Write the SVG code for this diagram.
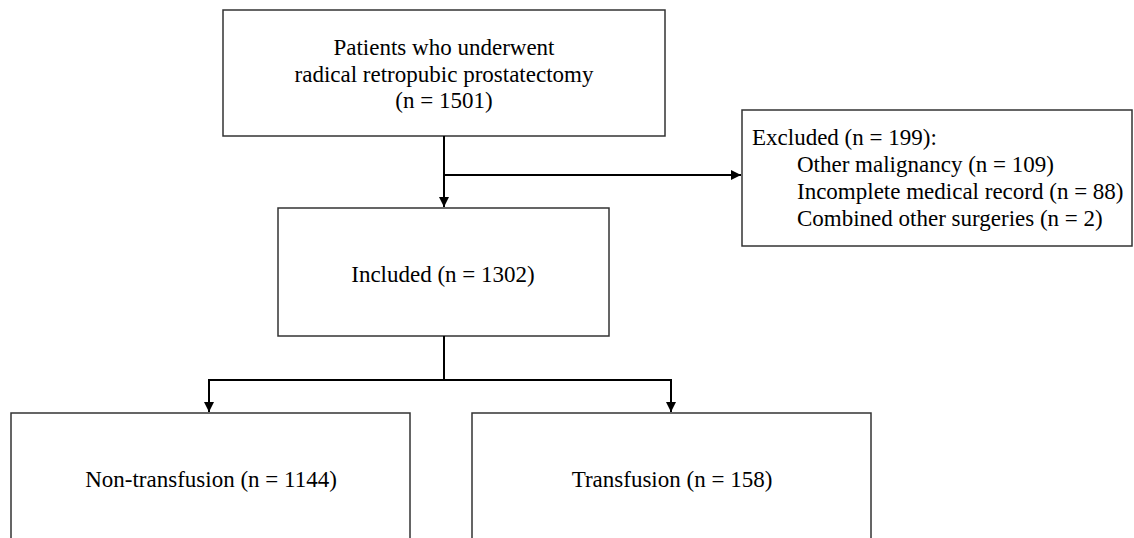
<svg xmlns="http://www.w3.org/2000/svg" width="1134" height="538" viewBox="0 0 1134 538">
<style>
.box{fill:#fff;stroke:#333;stroke-width:1.5}
.t{font-family:"Liberation Serif","Times New Roman",serif;font-size:23px;fill:#000}
.c{text-anchor:middle}
.ln{fill:none;stroke:#000;stroke-width:2}
</style>
<defs>
<marker id="ah" viewBox="0 0 10 10" refX="10" refY="5" markerWidth="5" markerHeight="5" orient="auto" markerUnits="strokeWidth">
<path d="M0,0 L10,5 L0,10 z" fill="#000"/>
</marker>
</defs>
<rect width="1134" height="538" fill="#fff"/>
<g id="n-patients">
<rect class="box" x="223" y="10" width="442" height="126"/>
<text class="t c" x="444" y="55">Patients who underwent</text>
<text class="t c" x="444" y="82">radical retropubic prostatectomy</text>
<text class="t c" x="444" y="108">(n = 1501)</text>
</g>
<g id="n-excluded">
<rect class="box" x="742" y="110" width="390" height="136"/>
<text class="t" x="752" y="145">Excluded (n = 199):</text>
<text class="t" x="797" y="172">Other malignancy (n = 109)</text>
<text class="t" x="797" y="199">Incomplete medical record (n = 88)</text>
<text class="t" x="797" y="226">Combined other surgeries (n = 2)</text>
</g>
<g id="n-included">
<rect class="box" x="278" y="208" width="331" height="128"/>
<text class="t c" x="443" y="282">Included (n = 1302)</text>
</g>
<g id="n-nontransfusion">
<rect class="box" x="11" y="413" width="399" height="140"/>
<text class="t c" x="211" y="487">Non-transfusion (n = 1144)</text>
</g>
<g id="n-transfusion">
<rect class="box" x="472" y="413" width="399" height="140"/>
<text class="t c" x="672" y="487">Transfusion (n = 158)</text>
</g>
<g id="connectors">
<path class="ln" d="M444,136 V207" marker-end="url(#ah)"/>
<path class="ln" d="M444,175 H741" marker-end="url(#ah)"/>
<path class="ln" d="M444,336 V380"/>
<path class="ln" d="M209,380 H671"/>
<path class="ln" d="M209,379 V412" marker-end="url(#ah)"/>
<path class="ln" d="M671,379 V412" marker-end="url(#ah)"/>
</g>
</svg>
